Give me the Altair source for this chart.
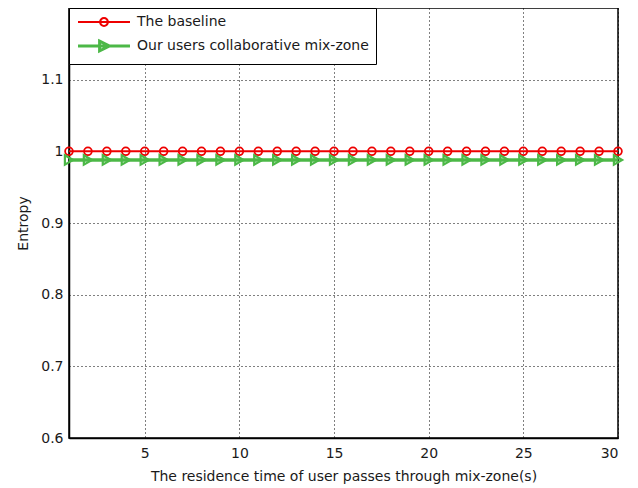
import altair as alt
import pandas as pd

residence_time = [1, 2, 3, 4, 5, 6, 7, 8, 9, 10, 11, 12, 13, 14, 15,
                  16, 17, 18, 19, 20, 21, 22, 23, 24, 25, 26, 27, 28, 29, 30]
baseline = [1.0, 1.0, 1.0, 1.0, 1.0, 1.0, 1.0, 1.0, 1.0, 1.0, 1.0, 1.0, 1.0, 1.0, 1.0,
            1.0, 1.0, 1.0, 1.0, 1.0, 1.0, 1.0, 1.0, 1.0, 1.0, 1.0, 1.0, 1.0, 1.0, 1.0]
collaborative = [0.988, 0.988, 0.988, 0.988, 0.988, 0.988, 0.988, 0.988, 0.988, 0.988,
                 0.988, 0.988, 0.988, 0.988, 0.988, 0.988, 0.988, 0.988, 0.988, 0.988,
                 0.988, 0.988, 0.988, 0.988, 0.988, 0.988, 0.988, 0.988, 0.988, 0.988]
series_names = ["The baseline", "Our users collaborative mix-zone"]
x_ticks = [5, 10, 15, 20, 25, 30]
y_ticks = [0.6, 0.7, 0.8, 0.9, 1.0, 1.1]

RED = "#ee0000"
GREEN = "#4cb847"
FONT = "DejaVu Sans"

df = pd.DataFrame({
    "t": residence_time * 2,
    "entropy": baseline + collaborative,
    "series": [series_names[0]] * len(baseline) + [series_names[1]] * len(collaborative),
})
df_base = df[df.series == series_names[0]]
df_coll = df[df.series == series_names[1]]

x_enc = alt.X("t:Q", scale=alt.Scale(domain=[1, 30], nice=False),
              axis=alt.Axis(values=x_ticks, title="The residence time of user passes through mix-zone(s)"))
y_enc = alt.Y("entropy:Q", scale=alt.Scale(domain=[0.6, 1.2], nice=False),
              axis=alt.Axis(values=y_ticks, format="~g", title="Entropy"))

base_line = alt.Chart(df_base).mark_line(color=RED, strokeWidth=2, clip=False).encode(x=x_enc, y=y_enc)
base_pts = alt.Chart(df_base).mark_point(shape="circle", color=RED, filled=False, size=60,
                                         strokeWidth=1.8, opacity=1, clip=False).encode(x=x_enc, y=y_enc)
coll_line = alt.Chart(df_coll).mark_line(color=GREEN, strokeWidth=3.5, clip=False).encode(x=x_enc, y=y_enc)
coll_pts = alt.Chart(df_coll).mark_point(shape="triangle-right", color=GREEN, filled=False, size=90,
                                         strokeWidth=2.2, opacity=1, clip=False).encode(x=x_enc, y=y_enc)

legend_paths = [
    "M-5,0H5M-0.75,0A0.75,0.75 0 1,1 0.75,0A0.75,0.75 0 1,1 -0.75,0",
    "M-5,0H5M-0.85,-0.95L1.05,0L-0.85,0.95Z",
]
legend_layer = alt.Chart(df).transform_filter("datum.entropy > 5").mark_point(
    filled=False, opacity=1
).encode(
    x=x_enc, y=y_enc,
    color=alt.Color("series:N", scale=alt.Scale(domain=series_names, range=[RED, GREEN]),
                    legend=alt.Legend(title=None)),
    shape=alt.Shape("series:N", scale=alt.Scale(domain=series_names, range=legend_paths),
                    legend=alt.Legend(title=None)),
    strokeWidth=alt.StrokeWidth("series:N", scale=alt.Scale(domain=series_names, range=[2, 3]),
                                legend=alt.Legend(title=None)),
)

chart = alt.layer(legend_layer, base_line, base_pts, coll_line, coll_pts).properties(
    width=549, height=430,
    autosize=alt.AutoSizeParams(type="none"),
    padding={"left": 61, "top": 0, "right": 12, "bottom": 48},
).configure_view(
    stroke="black", strokeWidth=1.5
).configure_axis(
    labelFont=FONT, labelFontSize=14, labelColor="#1a1a1a",
    titleFont=FONT, titleFontSize=14, titleFontWeight="normal", titleColor="#1a1a1a",
    grid=True, gridColor="black", gridDash=[1, 3], gridOpacity=1, gridWidth=1,
    domainColor="black", domainWidth=1.5, ticks=False, labelPadding=6,
).configure_axisX(
    titlePadding=9, labelPadding=8,
).configure_axisY(
    titlePadding=10,
).configure_legend(
    orient="top-left", offset=0, strokeColor="black", fillColor="white",
    padding=7, symbolSize=108, symbolOffset=21, labelOffset=26, labelLimit=500,
    labelFont=FONT, labelFontSize=14, labelColor="#1a1a1a", rowPadding=5,
    symbolFillColor="white",
)

chart.save("out.html", embed_options={"renderer": "svg", "actions": False})
